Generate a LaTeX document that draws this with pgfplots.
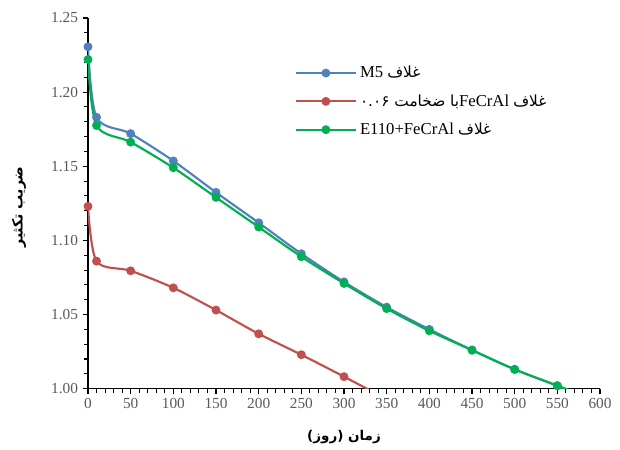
\documentclass[border=0pt]{standalone}
\usepackage{pgfplots}
\pgfplotsset{compat=1.18}
\usepackage{fontspec}
\usetikzlibrary{calc}
\setmainfont{Liberation Serif}
\newfontfamily\fa[Script=Arabic,Scale=0.92]{DejaVu Sans}
\TeXXeTstate=1
\definecolor{cblue}{RGB}{79,129,189}
\definecolor{cred}{RGB}{192,80,77}
\definecolor{cgreen}{RGB}{0,176,80}
\definecolor{tickgray}{RGB}{89,89,89}
\begin{document}
\begin{tikzpicture}
\begin{axis}[
  scale only axis,
  width=384pt, height=278pt,
  xmin=0, xmax=600, ymin=1.00, ymax=1.25,
  xtick={0,50,...,600},
  ytick={1.00,1.05,...,1.25},
  minor x tick num=4,
  minor y tick num=4,
  axis x line*=bottom,
  axis y line*=left,
  axis line style={black, line width=1pt},
  tick align=outside,
  major tick length=4pt,
  minor tick length=3pt,
  tick style={black, line width=0.8pt},
  y tick label style={/pgf/number format/.cd, fixed, fixed zerofill, precision=2},
  /pgf/number format/assume math mode=true,
  tick label style={font=\fontsize{11.5}{13}\selectfont, text=tickgray},
  xlabel={\fontsize{11}{13}\selectfont\fa\bfseries\beginR زمان (روز)\endR},
  ylabel={\fontsize{11.5}{13}\selectfont\fa\bfseries\beginR ضریب تکثیر\endR},
  xlabel style={at={(axis description cs:0.5,-0.13)}, anchor=center},
  ylabel style={at={(axis description cs:-0.135,0.49)}, anchor=center},
  legend style={at={(rel axis cs:0.395,0.885)}, anchor=north west, draw=none, fill=none,
    font=\fontsize{12.5}{14}\selectfont, row sep=7pt},
  legend cell align=left,
  legend image code/.code={
    \draw[mark repeat=2, mark phase=2, #1] plot coordinates {(0cm,0cm) (0.8cm,0cm) (1.6cm,0cm)};
  },
  every axis plot/.append style={line width=1.6pt, smooth, mark=*, mark size=2.5pt},
]
\addplot[color=cblue, mark options={fill=cblue}] coordinates {
(0,1.2306) (10,1.183) (50,1.172) (100,1.1536) (150,1.1324) (200,1.1119) (250,1.091) (300,1.072)
(350,1.055) (400,1.040) (450,1.026) (500,1.013) (550,1.002) (600,0.991)};
\addlegendentry{\beginR{\fa غلاف} \beginL M5\endL\endR}
\addplot[color=cred, mark options={fill=cred}] coordinates {
(0,1.123) (10,1.086) (50,1.0795) (100,1.068) (150,1.053) (200,1.037) (250,1.0229) (300,1.0081) (350,0.993)};
\addlegendentry{\beginR{\fa غلاف} \beginL FeCrAl\endL{}{\fa با ضخامت \beginL ۰.۰۶\endL}\endR}
\addplot[color=cgreen, mark options={fill=cgreen}] coordinates {
(0,1.222) (10,1.1775) (50,1.1663) (100,1.149) (150,1.129) (200,1.109) (250,1.089) (300,1.071)
(350,1.054) (400,1.039) (450,1.026) (500,1.013) (550,1.002) (600,0.991)};
\addlegendentry{\beginR{\fa غلاف} \beginL E110+FeCrAl\endL\endR}
\end{axis}
\pgfresetboundingbox
\path ($(current axis.south west)+(-66pt,-45.75pt)$) rectangle ($(current axis.north east)+(15pt,13.5pt)$);
\end{tikzpicture}
\end{document}
